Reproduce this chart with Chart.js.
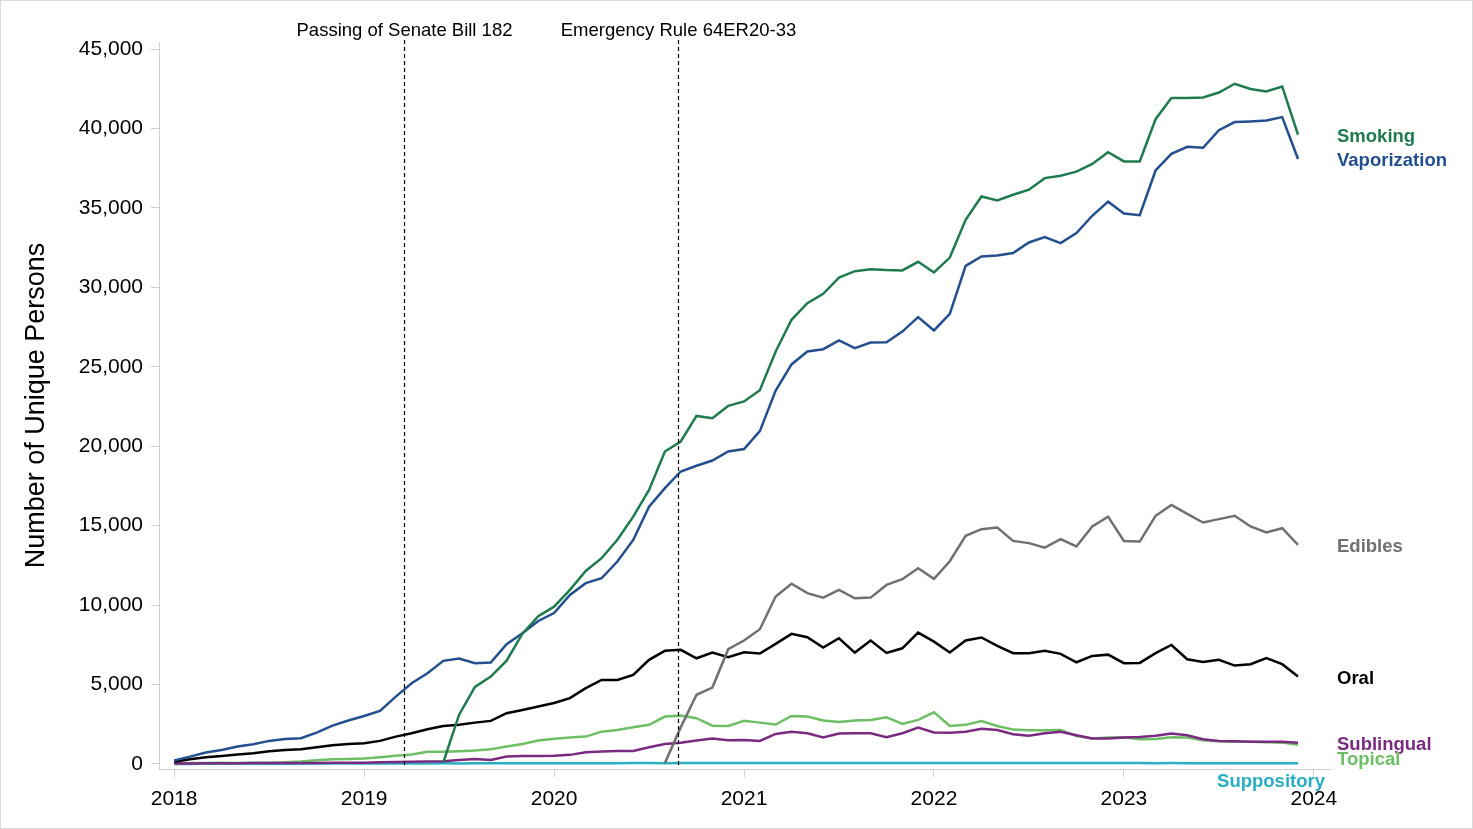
<!DOCTYPE html>
<html>
<head>
<meta charset="utf-8">
<title>Unique persons by route</title>
<script src="https://cdn.jsdelivr.net/npm/chart.js@4.4.1/dist/chart.umd.min.js"></script>
<style>
  html, body { margin: 0; padding: 0; background: #fff; }
  canvas { display: block; }
</style>
</head>
<body>
<canvas id="myChart" width="1473" height="829"></canvas>
<script>
// monthly counts, Jan 2018 .. Dec 2023
const years = [2018, 2019, 2020, 2021, 2022, 2023];
const yearTicks = [2018, 2019, 2020, 2021, 2022, 2023, 2024];
const valueTicks = [0, 5000, 10000, 15000, 20000, 25000, 30000, 35000, 40000, 45000];

const smoking = [
  null, null, null, null, null, null, null, null, null, null, null, null,
  null, null, null, null, null, 100, 3100, 4850, 5500, 6500, 8200, 9300,
  9900, 10960, 12150, 12950, 14110, 15570, 17250, 19670, 20300, 21910, 21770, 22540,
  22820, 23530, 25970, 27960, 29010, 29600, 30620, 31020, 31150, 31090, 31070, 31610,
  30940, 31880, 34260, 35720, 35470, 35830, 36150, 36880, 37030, 37290, 37770, 38510,
  37930, 37930, 40590, 41920, 41920, 41960, 42270, 42820, 42490, 42340, 42650, 39610
];
const vaporization = [
  210, 460, 720, 880, 1090, 1240, 1450, 1570, 1620, 1970, 2410, 2730,
  3020, 3340, 4240, 5080, 5710, 6490, 6630, 6340, 6380, 7540, 8230, 9000,
  9500, 10640, 11380, 11690, 12740, 14100, 16200, 17360, 18410, 18770, 19100, 19670,
  19820, 20950, 23500, 25150, 25970, 26110, 26660, 26180, 26530, 26550, 27220, 28130,
  27290, 28340, 31360, 31950, 32010, 32160, 32830, 33170, 32790, 33420, 34510, 35400,
  34650, 34550, 37360, 38410, 38850, 38790, 39900, 40410, 40450, 40510, 40720, 38080
];
const edibles = [
  null, null, null, null, null, null, null, null, null, null, null, null,
  null, null, null, null, null, null, null, null, null, null, null, null,
  null, null, null, null, null, null, null, 50, 2300, 4350, 4810, 7220,
  7770, 8480, 10540, 11340, 10750, 10470, 10960, 10430, 10470, 11270, 11630, 12320,
  11650, 12760, 14360, 14780, 14880, 14040, 13900, 13620, 14150, 13690, 14950, 15570,
  14040, 14000, 15620, 16310, 15740, 15200, 15410, 15620, 14950, 14570, 14840, 13790
];
const oral = [
  130, 290, 420, 500, 590, 670, 800, 880, 920, 1050, 1180, 1260,
  1300, 1450, 1720, 1930, 2180, 2390, 2460, 2600, 2710, 3190, 3400, 3610,
  3840, 4140, 4770, 5290, 5290, 5600, 6550, 7120, 7180, 6650, 7010, 6720,
  7030, 6950, 7560, 8190, 7980, 7330, 7910, 7010, 7770, 6990, 7280, 8270,
  7700, 7010, 7770, 7960, 7430, 6970, 6970, 7120, 6930, 6400, 6800, 6880,
  6340, 6360, 6970, 7490, 6590, 6420, 6550, 6190, 6280, 6660, 6280, 5500
];
const sublingual = [
  30, 30, 40, 40, 40, 50, 50, 50, 60, 60, 70, 70,
  80, 100, 125, 140, 150, 170, 250, 315, 250, 460, 500, 500,
  520, 570, 735, 775, 820, 820, 1050, 1260, 1340, 1470, 1600, 1490,
  1510, 1450, 1890, 2020, 1930, 1660, 1910, 1930, 1930, 1680, 1930, 2290,
  1980, 1970, 2030, 2220, 2140, 1870, 1780, 1930, 2020, 1810, 1600, 1600,
  1660, 1700, 1780, 1910, 1810, 1550, 1450, 1430, 1400, 1400, 1390, 1340
];
const topical = [
  40, 50, 60, 70, 60, 70, 80, 100, 150, 230, 300, 315,
  340, 420, 520, 590, 760, 760, 800, 840, 920, 1090, 1260, 1470,
  1580, 1660, 1720, 2030, 2140, 2310, 2460, 2980, 3040, 2880, 2410, 2390,
  2710, 2600, 2480, 3020, 2980, 2730, 2640, 2730, 2770, 2940, 2520, 2770,
  3250, 2390, 2460, 2700, 2390, 2160, 2120, 2120, 2140, 1760, 1600, 1660,
  1680, 1550, 1570, 1680, 1660, 1490, 1430, 1400, 1390, 1370, 1340, 1200
];
const suppository = [
  0, 0, 5, 5, 10, 10, 10, 15, 15, 20, 20, 20,
  25, 25, 25, 30, 30, 35, 30, 35, 35, 40, 40, 35,
  40, 45, 45, 40, 45, 50, 50, 45, 50, 55, 50, 55,
  55, 50, 55, 60, 55, 60, 60, 55, 60, 60, 55, 60,
  60, 55, 60, 60, 55, 55, 60, 55, 50, 55, 55, 50,
  50, 50, 45, 50, 45, 45, 45, 40, 45, 40, 40, 40
];

// events marked with dashed lines (decimal year)
const eventNames = ["Passing of Senate Bill 182", "Emergency Rule 64ER20-33"];
const eventDates = [2019.21, 2020.655];

const months = [];
years.forEach(y => {
  for (let m = 0; m < 12; m++) months.push(y + m / 12);
});

const toPoints = values =>
  months.map((x, i) => ({ x: x, y: values[i] })).filter(p => p.y !== null);

const series = [
  { label: "Smoking", data: smoking, color: "#1f7b4f", dy: 2 },
  { label: "Vaporization", data: vaporization, color: "#244f8e", dy: 2 },
  { label: "Edibles", data: edibles, color: "#707070", dy: 2 },
  { label: "Oral", data: oral, color: "#000000", dy: 2 },
  { label: "Sublingual", data: sublingual, color: "#7a2a80", dy: 2 },
  { label: "Topical", data: topical, color: "#6dbf65", dy: 15 },
  { label: "Suppository", data: suppository, color: "#2aaec3", dy: 0 }
];

const FONT = "'Liberation Sans', Arial, sans-serif";
const axisGray = "#cfcfcf";

const frame = {
  id: "frame",
  beforeDraw(chart) {
    const ctx = chart.ctx;
    ctx.save();
    ctx.fillStyle = "#fff";
    ctx.fillRect(0, 0, chart.width, chart.height);
    ctx.strokeStyle = "#dadada";
    ctx.lineWidth = 1;
    ctx.strokeRect(0.5, 0.5, chart.width - 1, chart.height - 1);
    ctx.restore();
  }
};

const annotations = {
  id: "annotations",
  afterDatasetsDraw(chart) {
    const ctx = chart.ctx;
    const xs = chart.scales.x;
    const ys = chart.scales.y;
    const area = chart.chartArea;
    ctx.save();

    // event lines
    ctx.strokeStyle = "#000";
    ctx.lineWidth = 1.2;
    ctx.setLineDash([4, 3]);
    ctx.font = "18.5px " + FONT;
    ctx.fillStyle = "#000";
    ctx.textAlign = "center";
    ctx.textBaseline = "middle";
    eventDates.forEach((d, i) => {
      const px = Math.round(xs.getPixelForValue(d)) + 0.5;
      ctx.beginPath();
      ctx.moveTo(px, area.top - 2);
      ctx.lineTo(px, area.bottom - 1);
      ctx.stroke();
      ctx.fillText(eventNames[i], px, area.top - 11);
    });
    ctx.setLineDash([]);

    // series names at the line ends
    ctx.font = "bold 18.5px " + FONT;
    series.forEach(s => {
      ctx.fillStyle = s.color;
      if (s.label === "Suppository") {
        ctx.textAlign = "right";
        ctx.fillText(s.label, area.right - 5, ys.getPixelForValue(0) + 18);
        return;
      }
      const last = s.data[s.data.length - 1];
      ctx.textAlign = "left";
      ctx.fillText(s.label, area.right + 7, ys.getPixelForValue(last) + s.dy);
    });
    ctx.restore();
  }
};

const ctx = document.getElementById("myChart").getContext("2d");
const chart = new Chart(ctx, {
  type: "line",
  data: {
    datasets: series.map(s => ({
      label: s.label,
      data: toPoints(s.data),
      borderColor: s.color,
      backgroundColor: s.color,
      borderWidth: 2.5,
      pointRadius: 0,
      tension: 0,
      fill: false
    }))
  },
  options: {
    responsive: false,
    devicePixelRatio: 1,
    animation: false,
    layout: { padding: { left: 0, top: 42, right: 143, bottom: 0 } },
    plugins: {
      legend: { display: false },
      tooltip: { enabled: false }
    },
    scales: {
      x: {
        type: "linear",
        min: 2017.92,
        max: 2024.085,
        afterBuildTicks: scale => {
          scale.ticks = yearTicks.map(v => ({ value: v }));
        },
        afterFit: scale => { scale.height = 60; },
        ticks: {
          color: "#000",
          font: { family: FONT, size: 21 },
          padding: 10,
          maxRotation: 0,
          callback: v => String(v)
        },
        grid: {
          drawOnChartArea: false,
          drawTicks: true,
          tickLength: 8,
          color: axisGray
        },
        border: { display: true, color: axisGray, width: 1 }
      },
      y: {
        min: -320,
        max: 45450,
        afterBuildTicks: scale => {
          scale.ticks = valueTicks.map(v => ({ value: v }));
        },
        afterFit: scale => { scale.width = 159; },
        ticks: {
          color: "#000",
          font: { family: FONT, size: 21 },
          padding: 8,
          callback: v => v.toLocaleString("en-US")
        },
        grid: {
          drawOnChartArea: false,
          drawTicks: true,
          tickLength: 8,
          color: axisGray
        },
        border: { display: true, color: axisGray, width: 1 },
        title: {
          display: true,
          text: "Number of Unique Persons",
          color: "#000",
          font: { family: FONT, size: 27 },
          padding: { top: 20, bottom: 0 }
        }
      }
    }
  },
  plugins: [frame, annotations]
});
</script>
</body>
</html>
